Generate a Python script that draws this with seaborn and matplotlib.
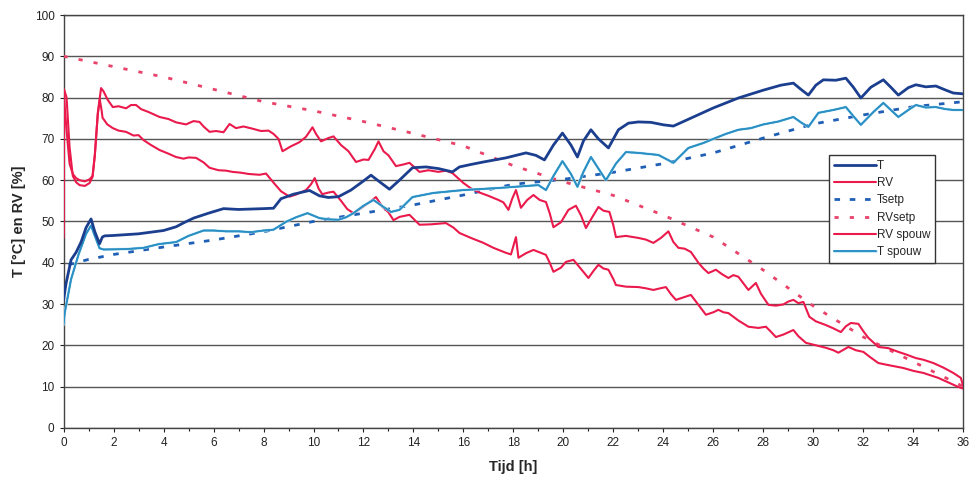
import numpy as np
import pandas as pd
import matplotlib
matplotlib.use("Agg")
import matplotlib.pyplot as plt
import matplotlib.patheffects as pe
import seaborn as sns

# ---- data ----
T_x = [0, 0.1, 0.3, 0.5, 0.7, 0.9, 1.1, 1.25, 1.44, 1.55, 1.64, 2.0, 3.0, 4.0, 4.5, 4.85, 5.2, 5.8, 6.4, 7.0, 7.5, 8.0, 8.4, 8.7, 9.2, 9.84, 10.24, 10.6, 11.0, 11.5, 12.0, 12.3, 12.6, 13.04, 13.44, 13.96, 14.5, 15.0, 15.56, 15.84, 16.3, 16.8, 17.7, 18.5, 18.9, 19.24, 19.6, 19.96, 20.3, 20.56, 20.8, 21.1, 21.4, 21.8, 22.2, 22.6, 23.0, 23.5, 24.0, 24.4, 24.8, 25.2, 26.0, 27.0, 28.0, 28.7, 29.2, 29.5, 29.8, 30.1, 30.4, 30.9, 31.3, 31.6, 31.9, 32.3, 32.8, 33.1, 33.4, 33.8, 34.1, 34.5, 34.9, 35.3, 35.6, 36]
T_y = [31, 35, 40.7, 42.5, 45, 48.5, 50.6, 47.5, 44.6, 46.2, 46.5, 46.6, 47.0, 47.8, 48.7, 49.8, 50.8, 52.0, 53.1, 52.9, 53.0, 53.1, 53.2, 55.5, 56.6, 57.5, 56.2, 55.8, 56.0, 57.6, 59.8, 61.2, 59.8, 57.8, 60, 63.0, 63.2, 62.8, 62.0, 63.2, 63.8, 64.4, 65.4, 66.6, 66.0, 64.9, 68.5, 71.4, 68.5, 65.6, 69.5, 72.2, 70, 67.8, 72.2, 73.8, 74.1, 74.0, 73.4, 73.1, 74.2, 75.3, 77.5, 79.9, 81.8, 83.0, 83.5, 82.0, 80.6, 83.0, 84.3, 84.2, 84.7, 82.5, 79.9, 82.5, 84.3, 82.5, 80.6, 82.4, 83.1, 82.6, 82.8, 81.8, 81.1, 80.9]

TS_x = [0, 0.05, 0.3, 0.6, 0.9, 1.1, 1.25, 1.44, 1.6, 2.5, 3.2, 3.8, 4.5, 5.0, 5.6, 6.0, 6.5, 7.0, 7.5, 8.0, 8.4, 8.9, 9.3, 9.76, 10.24, 10.6, 11.0, 11.3, 11.6, 12.0, 12.4, 12.8, 13.1, 13.44, 13.96, 14.8, 16.0, 17.4, 19.0, 19.3, 19.6, 19.96, 20.3, 20.56, 20.8, 21.1, 21.4, 21.7, 22.1, 22.5, 23.0, 23.8, 24.4, 25.0, 25.6, 26.0, 26.5, 27.0, 27.5, 28.0, 28.6, 29.2, 29.5, 29.8, 30.2, 30.8, 31.3, 31.6, 31.9, 32.4, 32.8, 33.1, 33.4, 33.8, 34.1, 34.5, 34.9, 35.3, 35.6, 36]
TS_y = [25, 28, 36, 42, 47, 49, 46.5, 43.5, 43.2, 43.3, 43.6, 44.5, 45.0, 46.5, 47.8, 47.8, 47.6, 47.6, 47.4, 47.8, 48.0, 49.9, 51.0, 52.0, 50.8, 50.5, 50.4, 51.0, 52.0, 53.8, 55.2, 53.5, 52.3, 52.8, 55.9, 56.9, 57.6, 58.1, 58.8, 57.6, 61, 64.6, 61.5, 58.4, 62, 65.6, 62.8, 60.0, 64, 66.8, 66.6, 66.1, 64.2, 67.8, 69.0, 70.0, 71.2, 72.2, 72.6, 73.5, 74.2, 75.3, 74.0, 72.9, 76.3, 77.0, 77.7, 75.5, 73.4, 76.5, 78.7, 77.0, 75.3, 77.0, 78.2, 77.6, 77.7, 77.2, 77.0, 77.0]

TSP_x = [0.2, 1, 2, 4, 6, 8, 10, 12, 14, 16, 18, 20, 22, 24, 26, 28, 30, 32, 34, 36]
TSP_y = [39.5, 40.8, 42, 43.8, 45.5, 47.5, 50, 52, 54, 56.4, 59.0, 60.2, 61.9, 64, 66.6, 70.2, 73.6, 75.8, 77.8, 79]

RSP_x = [0, 2, 4, 6, 8, 10, 12, 14, 16, 18, 20, 22, 24, 26, 28, 30, 32, 34, 36]
RSP_y = [90, 87.5, 85, 82, 79, 76.8, 74.2, 71.3, 68.3, 63.5, 59.6, 56.3, 51.5, 46.2, 38.2, 29.5, 22, 16, 10]

RV_x = [0, 0.02, 0.12, 0.24, 0.37, 0.5, 0.64, 0.85, 1.04, 1.16, 1.25, 1.37, 1.5, 1.6, 1.77, 1.97, 2.2, 2.5, 2.7, 2.9, 3.1, 3.4, 3.84, 4.2, 4.5, 4.9, 5.2, 5.44, 5.6, 5.84, 6.1, 6.4, 6.64, 6.9, 7.2, 7.6, 7.9, 8.2, 8.4, 8.6, 8.76, 9.1, 9.44, 9.7, 9.96, 10.1, 10.3, 10.6, 10.8, 11.1, 11.4, 11.7, 12.0, 12.2, 12.45, 12.6, 12.8, 13.0, 13.3, 13.6, 13.84, 14.24, 14.6, 15.0, 15.3, 15.56, 16.0, 16.3, 16.6, 17.0, 17.4, 17.6, 17.8, 17.95, 18.1, 18.3, 18.55, 18.8, 19.05, 19.3, 19.45, 19.6, 19.9, 20.2, 20.5, 20.7, 20.9, 21.15, 21.4, 21.6, 21.84, 22.0, 22.1, 22.5, 23.0, 23.3, 23.6, 23.9, 24.2, 24.4, 24.6, 24.85, 25.1, 25.4, 25.6, 25.8, 26.1, 26.35, 26.6, 26.8, 27.0, 27.2, 27.4, 27.7, 27.9, 28.2, 28.5, 28.8, 29.0, 29.2, 29.4, 29.6, 29.84, 30.1, 30.5, 30.8, 31.1, 31.3, 31.5, 31.8, 32.0, 32.2, 32.6, 33.0, 33.4, 33.7, 34.1, 34.4, 34.8, 35.2, 35.6, 35.9, 36]
RV_y = [47, 82, 80, 68, 61, 59.5, 58.8, 58.6, 59.3, 60.8, 66, 76.3, 82.3, 81.5, 79.4, 77.7, 77.9, 77.4, 78.2, 78.2, 77.2, 76.5, 75.3, 74.8, 74.0, 73.5, 74.3, 74.1, 73.0, 71.7, 71.9, 71.6, 73.6, 72.6, 73.0, 72.4, 71.9, 72.0, 71.2, 70.0, 67.0, 68.2, 69.2, 70.5, 72.8, 71.2, 69.4, 70.2, 70.6, 68.5, 67.0, 64.4, 65.0, 64.9, 67.5, 69.4, 67.0, 66.0, 63.4, 63.8, 64.2, 62.0, 62.4, 62.0, 62.3, 61.7, 59.3, 58.0, 57.1, 56.2, 55.2, 54.6, 52.8, 55.5, 57.6, 53.3, 55.2, 56.4, 55.2, 54.7, 52, 48.6, 49.8, 52.8, 53.8, 51.5, 48.4, 51, 53.5, 52.6, 52.3, 49.0, 46.2, 46.5, 46.0, 45.6, 44.8, 46.0, 47.6, 45.0, 43.6, 43.4, 42.6, 40.0, 38.6, 37.5, 38.3, 37.2, 36.3, 37.0, 36.6, 35.0, 33.4, 35.1, 32.5, 29.8, 29.6, 29.9, 30.6, 31.0, 30.2, 30.5, 26.9, 25.8, 24.9, 24.1, 23.2, 24.6, 25.4, 25.2, 23.4, 21.8, 19.6, 19.3, 18.4, 17.8, 16.9, 16.5, 15.7, 14.6, 13.3, 12.1, 10]

RVS_x = [0, 0.02, 0.12, 0.24, 0.37, 0.5, 0.64, 0.85, 1.04, 1.16, 1.25, 1.37, 1.45, 1.52, 1.56, 1.75, 1.97, 2.2, 2.5, 2.8, 3.0, 3.2, 3.5, 3.84, 4.2, 4.5, 4.8, 5.0, 5.3, 5.6, 5.84, 6.2, 6.5, 6.76, 7.1, 7.4, 7.84, 8.1, 8.4, 8.7, 9.04, 9.3, 9.7, 9.9, 10.05, 10.2, 10.35, 10.6, 10.8, 11.1, 11.35, 11.6, 11.9, 12.2, 12.5, 12.75, 13.0, 13.2, 13.44, 13.84, 14.24, 14.7, 15.3, 15.6, 15.84, 16.3, 16.8, 17.2, 17.7, 17.9, 18.1, 18.2, 18.5, 18.8, 19.05, 19.3, 19.45, 19.6, 19.9, 20.1, 20.4, 20.7, 21.0, 21.2, 21.4, 21.6, 21.8, 22.0, 22.1, 22.5, 23.0, 23.3, 23.6, 23.8, 24.1, 24.3, 24.5, 24.8, 25.1, 25.4, 25.7, 26.0, 26.2, 26.4, 26.6, 27.0, 27.4, 27.8, 28.1, 28.3, 28.5, 28.8, 29.2, 29.4, 29.7, 30.1, 30.5, 30.8, 31.0, 31.2, 31.4, 31.7, 32.0, 32.3, 32.6, 33.0, 33.6, 34.0, 34.4, 34.7, 35.0, 35.4, 35.8, 36]
RVS_y = [46, 80, 72, 64, 61.5, 60.5, 60, 59.7, 60.2, 61, 66, 76, 79.5, 77, 75.1, 73.5, 72.6, 72.0, 71.7, 70.8, 70.9, 69.7, 68.5, 67.3, 66.4, 65.6, 65.2, 65.5, 65.4, 64.3, 63.0, 62.4, 62.3, 62.0, 61.8, 61.5, 61.3, 61.6, 59.4, 57.3, 56.0, 56.5, 57.6, 59.0, 60.5, 58.0, 56.6, 57.0, 57.2, 55.0, 53.0, 52.0, 53.2, 54.5, 55.9, 53.6, 52.2, 50.3, 51.1, 51.6, 49.2, 49.3, 49.6, 48.5, 47.2, 46.0, 44.8, 43.6, 42.4, 42.0, 46.2, 41.2, 42.3, 43.1, 42.5, 41.9, 40.0, 37.8, 38.8, 40.2, 40.7, 38.5, 36.3, 38.0, 39.5, 38.6, 38.3, 36.0, 34.6, 34.2, 34.1, 33.8, 33.4, 33.7, 34.1, 32.4, 31.0, 31.6, 32.2, 29.8, 27.4, 28.0, 28.6, 28.0, 27.8, 26.0, 24.5, 24.2, 24.5, 23.3, 22.0, 22.6, 23.7, 22.2, 20.6, 20.0, 19.4, 18.8, 18.2, 18.9, 19.6, 18.8, 18.4, 17.0, 15.7, 15.2, 14.5, 13.8, 13.3, 12.7, 12.1, 11.0, 9.9, 9.5]

x_ticks = list(range(0, 37, 2))
y_ticks = list(range(0, 101, 10))

# ---- plot ----
sns.set_theme(style="white")
plt.rcParams['font.family'] = ['Liberation Sans', 'DejaVu Sans']

fig = plt.figure(figsize=(9.78, 4.84), dpi=100)
ax = fig.add_axes([0.065, 0.116, 0.920, 0.853])

C_T = "#1b3f8e"
C_RV = "#ea1a4c"
C_TS = "#2b8fc4"
C_TSP = "#1f5fb5"
C_RSP = "#e8436a"

sns.lineplot(x=T_x, y=T_y, ax=ax, color=C_T, lw=2.0, label="T", zorder=5)
sns.lineplot(x=RV_x, y=RV_y, ax=ax, color=C_RV, lw=1.5, label="RV", zorder=4)
sns.lineplot(x=TSP_x, y=TSP_y, ax=ax, color=C_TSP, lw=2.0, label="Tsetp", zorder=3,
             linestyle=(0, (2.0, 3.5)))
sns.lineplot(x=RSP_x, y=RSP_y, ax=ax, color=C_RSP, lw=2.0, label="RVsetp", zorder=3,
             linestyle=(0, (1.5, 4.0)))
sns.lineplot(x=RVS_x, y=RVS_y, ax=ax, color=C_RV, lw=1.5, label="RV spouw", zorder=4)
sns.lineplot(x=TS_x, y=TS_y, ax=ax, color=C_TS, lw=1.2, label="T spouw", zorder=4)
ax.lines[-1].set_path_effects([pe.withStroke(linewidth=2.0, foreground="#bfe8f7"), pe.Normal()])

ax.set_xlim(0, 36)
ax.set_ylim(0, 100)
ax.set_xticks(x_ticks)
ax.set_xticks(range(0, 37, 1), minor=True)
ax.set_yticks(y_ticks)
ax.tick_params(axis='both', which='both', direction='out', length=3, width=0.8,
               labelsize=8.5, colors='#222222', bottom=True, left=True)
ax.tick_params(axis='x', which='minor', length=2)
ax.yaxis.grid(True, color='#555555', lw=1.0)
ax.xaxis.grid(False)
for s in ax.spines.values():
    s.set_color('#444444')
    s.set_linewidth(1.0)

ax.set_xlabel("Tijd [h]", fontsize=10.5, fontweight='bold', labelpad=8)
ax.set_ylabel("T [°C] en RV [%]", fontsize=10.5, fontweight='bold', labelpad=6)

leg = ax.legend(loc='upper left', bbox_to_anchor=(0.844, 0.675), frameon=True,
                fancybox=False, framealpha=1, edgecolor='#333333', fontsize=8.5,
                handlelength=3.6, handletextpad=0.1, borderpad=0.4, labelspacing=0.45)
leg.get_frame().set_linewidth(1.0)
leg.set_zorder(10)

fig.savefig("out.png", dpi=100)
